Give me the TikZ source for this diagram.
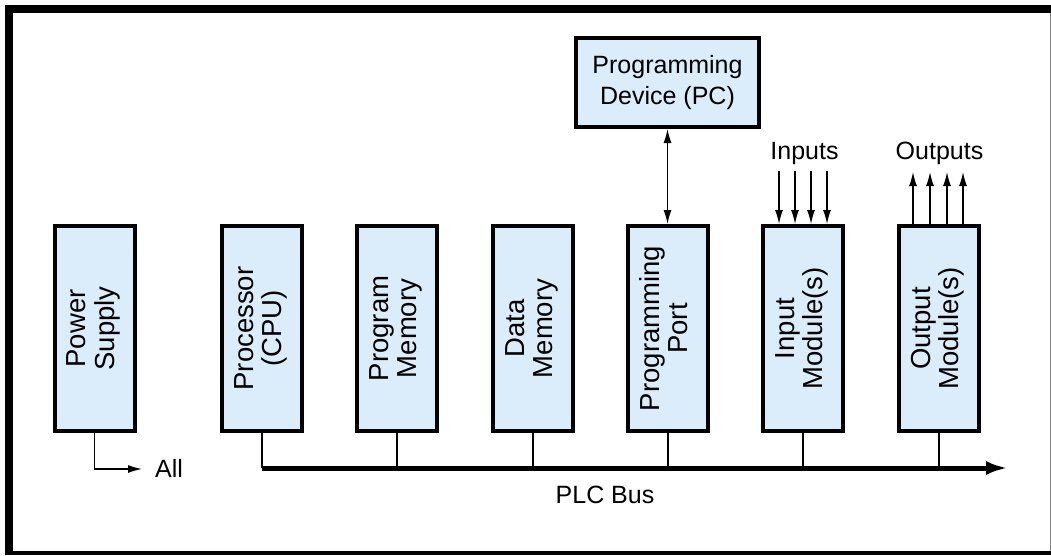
\documentclass[tikz,border=0pt]{standalone}
\usepackage{fontspec}
\setmainfont{Liberation Sans}
\usetikzlibrary{arrows.meta,calc}
\definecolor{modfill}{RGB}{219,236,250}
% two-line label turned to read bottom to top
\newcommand\modlabel[2]{\rotatebox{90}{\begin{tabular}{@{}c@{}}#1\\#2\end{tabular}}}
\begin{document}
\begin{tikzpicture}[x=1pt,y=-1pt,
  module/.style={draw, line width=4pt, fill=modfill, minimum width=80pt,
    minimum height=205pt, inner sep=0pt, font=\fontsize{27.5}{28}\selectfont},
  pcbox/.style={draw, line width=4pt, fill=modfill, minimum width=183pt,
    minimum height=89pt, inner sep=0pt, align=center,
    font=\fontsize{25}{31}\selectfont},
  lbl/.style={inner sep=0pt, font=\fontsize{25}{30}\selectfont},
  tip/.tip={Latex[length=14pt,width=8pt]},
  wire/.style={line width=1.3pt},
  sig/.style={line width=1.3pt, -tip},
  busline/.style={line width=5pt, -{Latex[length=22pt,width=14pt]}}
]
\useasboundingbox (0,0) rectangle (1051,555);

% outer frame
\fill (5,5) rectangle (13,555);
\fill (5,5) rectangle (1051,13);
\fill (5,551) rectangle (1051,555);
\draw[gray, line width=1pt] (1050,13) -- (1050,551);

% PLC modules
\node[module] (psu)    at (94.5,328.5) {\modlabel{Power}{Supply}};
\node[module] (cpu)    at (262,328.5)  {\modlabel{Processor}{(CPU)}};
\node[module] (pmem)   at (397,328.5)  {\modlabel{Program}{Memory}};
\node[module] (dmem)   at (533,328.5)  {\modlabel{Data}{Memory}};
\node[module] (port)   at (668,328.5)  {\modlabel{Programming}{Port}};
\node[module] (inmod)  at (803,328.5)  {\modlabel{Input}{Module(s)}};
\node[module] (outmod) at (939,328.5)  {\modlabel{Output}{Module(s)}};

% programming device
\node[pcbox] (pc) at (667.5,82.5) {Programming\\Device (PC)};
\draw[wire, tip-tip] (pc.south) -- (pc.south |- port.north);

% PLC bus
\coordinate (busstart) at ($(cpu.south)+(0,35)$);
\coordinate (busend) at (1008,468);
\draw[busline] (busstart) -- (busend);
\foreach \m in {cpu,pmem,dmem,port,inmod,outmod}
  \draw[wire] (\m.south) -- (\m.south |- busstart);
\node[lbl, anchor=base] (buslbl) at (605,503) {PLC Bus};

% power distribution
\coordinate (allpt) at (142,469);
\draw[sig] (psu.south) |- (allpt);
\node[lbl, anchor=base west] (alllbl) at (155,477) {All};

% field inputs and outputs
\node[lbl, anchor=base] (inlbl)  at (804.5,159) {Inputs};
\node[lbl, anchor=base] (outlbl) at (939.5,159) {Outputs};
\foreach \dx in {-24,-8,8,24}
  \draw[sig] ([xshift=\dx pt, yshift=53pt]inmod.north) -- ([xshift=\dx pt]inmod.north);
\foreach \dx in {-26,-9,8,24}
  \draw[sig] ([xshift=\dx pt]outmod.north) -- ([xshift=\dx pt, yshift=52pt]outmod.north);
\end{tikzpicture}
\end{document}
